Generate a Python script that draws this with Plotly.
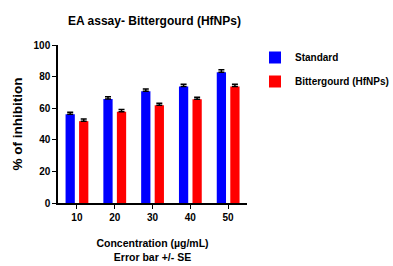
import plotly.graph_objects as go

categories = ["10", "20", "30", "40", "50"]
standard = [56.2, 65.8, 70.8, 73.8, 82.8]
standard_err = [1.2, 1.4, 1.4, 1.4, 1.5]
bitter = [51.8, 57.8, 61.8, 65.6, 73.8]
bitter_err = [1.3, 1.4, 1.4, 1.4, 1.4]

FONT = "Liberation Sans, Arial, sans-serif"

fig = go.Figure()
fig.add_trace(go.Bar(
    x=categories, y=standard, name="Standard", legendgroup="a",
    marker=dict(color="#0000ff", line=dict(width=0)),
    width=0.245, offset=-0.30,
    error_y=dict(type="data", array=standard_err, arrayminus=[0]*5, symmetric=False,
                 color="black", thickness=1.5, width=3),
))
fig.add_trace(go.Bar(
    x=categories, y=bitter, name="Bittergourd (HfNPs)", legendgroup="b",
    marker=dict(color="#ff0000", line=dict(width=0)),
    width=0.245, offset=0.058,
    error_y=dict(type="data", array=bitter_err, arrayminus=[0]*5, symmetric=False,
                 color="black", thickness=1.5, width=3),
))

fig.update_layout(
    width=393, height=266,
    margin=dict(l=58, r=146, t=45, b=63),
    paper_bgcolor="white", plot_bgcolor="white",
    font=dict(family=FONT, color="black"),
    title=dict(text="EA assay- Bittergourd (HfNPs)", x=68/393, xanchor="left",
               y=1 - 21/266, yanchor="middle",
               font=dict(size=12, family=FONT, color="black", weight="bold")),
    showlegend=True,
    legend=dict(xref="container", yref="container", x=255/393, y=1 - 43/266,
                xanchor="left", yanchor="top",
                font=dict(size=10, family=FONT, color="black", weight="bold"),
                bgcolor="rgba(0,0,0,0)", tracegroupgap=5, itemwidth=30),
    xaxis=dict(type="category", range=[-0.5, 4.5], showline=True, linecolor="black", linewidth=1.5,
               ticks="outside", ticklen=4, tickwidth=1.2, tickcolor="black",
               showgrid=False, zeroline=False, automargin=False,
               tickfont=dict(size=10, family=FONT, weight="bold"),
               title=dict(text="Concentration (µg/mL)<br>Error bar +/- SE",
                          font=dict(size=10.5, family=FONT, weight="bold"), standoff=18)),
    yaxis=dict(range=[0, 100], showline=True, linecolor="black", linewidth=1.5,
               ticks="outside", ticklen=4, tickwidth=1.2, tickcolor="black",
               tickvals=[0, 20, 40, 60, 80, 100],
               showgrid=False, zeroline=False, automargin=False,
               tickfont=dict(size=10, family=FONT, weight="bold"),
               title=dict(text="% of inhibition",
                          font=dict(size=13.5, family=FONT, weight="bold"), standoff=8)),
)

fig.write_html("out.html", config={"displayModeBar": False},
               post_script="document.body.style.margin='0';")
